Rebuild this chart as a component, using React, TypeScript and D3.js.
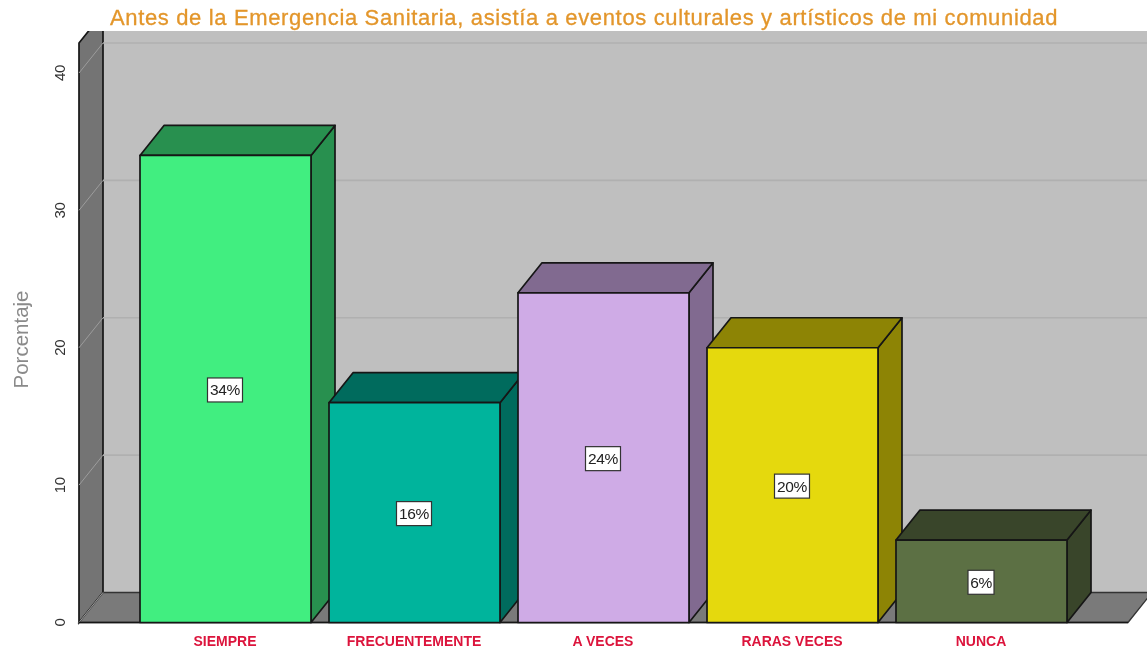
import React from "react";
import * as d3 from "d3";

const categories = ["SIEMPRE", "FRECUENTEMENTE", "A VECES", "RARAS VECES", "NUNCA"];
const values = [34, 16, 24, 20, 6];
const labels = ["34%", "16%", "24%", "20%", "6%"];
const frontColors = ["#41ee80", "#00b49c", "#cfabe6", "#e5d90d", "#5c7044"];
const sideColors = ["#28904f", "#006b5d", "#816a90", "#8d8405", "#39452a"];
const yTicks = [0, 10, 20, 30, 40];
const title = "Antes de la Emergencia Sanitaria, asistía a eventos culturales y artísticos de mi comunidad";
const yTitle = "Porcentaje";

const W = 1147, H = 650;
const DX = 24, DY = -30;
const FONT = "'Liberation Sans', Arial, sans-serif";

export default function App() {
  const y = d3.scaleLinear().domain([0, 40]).range([622.5, 73]);
  const x = d3.scaleBand<string>().domain(categories).range([131, 1076]).paddingInner(18 / 189).paddingOuter(9 / 189);
  const y0 = y(0), yTop = y(40);
  const xL = 79;
  const xEnd = 1152;
  const stroke = "#161616";
  const pts = (p: number[][]) => p.map(a => a.join(",")).join(" ");
  return (
    <svg width={W} height={H} viewBox={`0 0 ${W} ${H}`} style={{ position: "absolute", left: 0, top: 0, background: "#fff", filter: "blur(0.55px)" }}>
      <defs>
        <clipPath id="plot"><rect x={0} y={31} width={W} height={H - 31} /></clipPath>
      </defs>
      <g clipPath="url(#plot)">
        <rect x={xL + DX} y={yTop + DY - 30} width={W} height={y0 - yTop + 30} fill="#bfbfbf" />
        <polygon points={pts([[xL, y0], [xL + DX, y0 + DY], [xL + DX, yTop + DY - 30], [xL, yTop + DY]])} fill="#747474" stroke={stroke} strokeWidth={1.7} />
        <polygon points={pts([[xL, y0], [xL + DX, y0 + DY], [xEnd, y0 + DY], [xEnd - DX, y0]])} fill="#7a7a7a" stroke="#333" strokeWidth={1.4} />
        {yTicks.map(t => (
          <g key={t}>
            <line x1={xL} x2={xL + DX} y1={y(t)} y2={y(t) + DY} stroke="#9c9c9c" strokeWidth={1} />
            {t > 0 && <line x1={xL + DX} x2={W} y1={y(t) + DY} y2={y(t) + DY} stroke="#b0b0b0" strokeWidth={1.6} />}
          </g>
        ))}
      </g>
      <line x1={xL} x2={xEnd - DX} y1={y0} y2={y0} stroke={stroke} strokeWidth={1.7} />
      {categories.map((c, i) => {
        const x0 = x(c)!, x1 = x0 + x.bandwidth(), yv = y(values[i]);
        return (
          <g key={c} stroke={stroke} strokeWidth={1.7} strokeLinejoin="round">
            <polygon points={pts([[x1, y0], [x1 + DX, y0 + DY], [x1 + DX, yv + DY], [x1, yv]])} fill={sideColors[i]} />
            <polygon points={pts([[x0, yv], [x0 + DX, yv + DY], [x1 + DX, yv + DY], [x1, yv]])} fill={sideColors[i]} />
            <rect x={x0} y={yv} width={x.bandwidth()} height={y0 - yv} fill={frontColors[i]} />
          </g>
        );
      })}
      {categories.map((c, i) => {
        const cx = x(c)! + x.bandwidth() / 2 - 0.5, cy = (y(values[i]) + y0) / 2 + 1;
        const w = labels[i].length === 3 ? 35 : 26;
        return (
          <g key={c + "l"}>
            <rect x={cx - w / 2} y={cy - 12} width={w} height={24} fill="#fff" stroke="#333" strokeWidth={1.2} />
            <text x={cx} y={cy + 5.5} textAnchor="middle" fontFamily={FONT} fontSize={15.5} letterSpacing={-0.4} fill="#222">{labels[i]}</text>
            <text x={cx} y={645.5} textAnchor="middle" fontFamily={FONT} fontSize={14} fontWeight={700} fill="#dc143c">{c}</text>
          </g>
        );
      })}
      {yTicks.map(t => (
        <text key={t} transform={`translate(65,${y(t)}) rotate(-90)`} textAnchor="middle" fontFamily={FONT} fontSize={15} letterSpacing={-0.3} fill="#333">{t}</text>
      ))}
      <text transform="translate(28,339.5) rotate(-90)" textAnchor="middle" fontFamily={FONT} fontSize={20.5} fill="#8a8a8a">{yTitle}</text>
      <text x={584} y={25} textAnchor="middle" fontFamily={FONT} fontSize={22} letterSpacing={0.65} fill="#e3962b" stroke="#e3962b" strokeWidth={0.3}>{title}</text>
    </svg>
  );
}
